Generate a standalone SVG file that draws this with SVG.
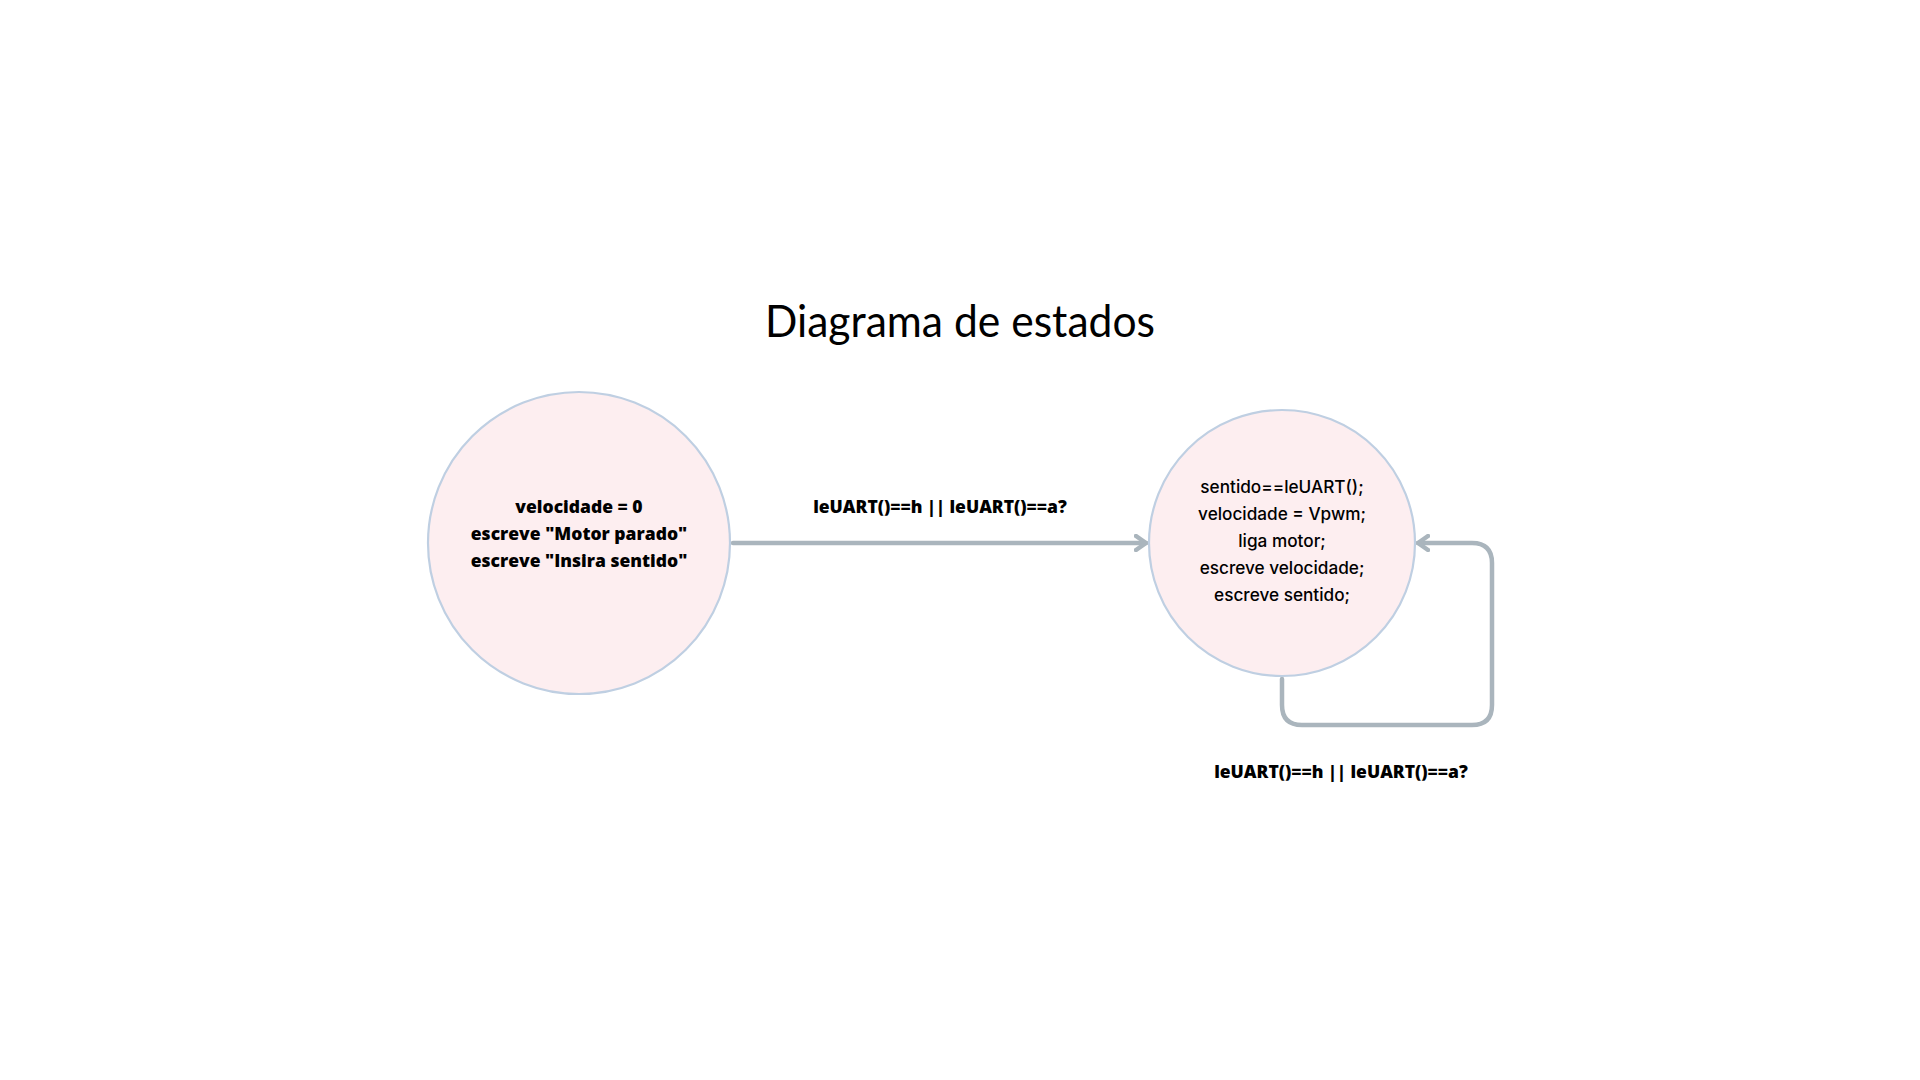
<svg xmlns="http://www.w3.org/2000/svg" width="1920" height="1080" viewBox="0 0 1920 1080">
<style>
.state{fill:#fdeef0;stroke:#bfcfe2;stroke-width:2.2}
.edge{fill:none;stroke:#aab5bd;stroke-width:4.5;stroke-linecap:round;stroke-linejoin:round}
.title{font-family:Lato,Inter,"Open Sans",sans-serif;font-size:45px;fill:#000}
.b{font-family:"Open Sans","Liberation Sans",sans-serif;font-weight:800;font-size:17.5px;fill:#000;text-anchor:middle}
.m{font-family:Inter,"Noto Sans",sans-serif;font-weight:500;font-size:17.2px;fill:#000;text-anchor:middle}
</style>
<defs>
<marker id="arr" viewBox="0 0 14 18" refX="12" refY="9" markerWidth="14" markerHeight="18" markerUnits="userSpaceOnUse" orient="auto">
<path d="M2,2 L12,9 L2,16" fill="none" stroke="#aab5bd" stroke-width="4.5" stroke-linecap="round" stroke-linejoin="round"/>
</marker>
</defs>
<rect width="1920" height="1080" fill="#fff"/>
<text class="title" x="960" y="337" text-anchor="middle" textLength="390" lengthAdjust="spacingAndGlyphs">Diagrama de estados</text>
<g id="connectors">
<path class="edge" d="M733,543 L1146,543" marker-end="url(#arr)"/>
<path class="edge" d="M1282,679 L1282,705 Q1282,725 1302,725 L1472,725 Q1492,725 1492,705 L1492,563 Q1492,543 1472,543 L1418,543" marker-end="url(#arr)"/>
<text class="b" x="940" y="513">leUART()==h || leUART()==a?</text>
<text class="b" x="1341" y="778">leUART()==h || leUART()==a?</text>
</g>
<g id="state-parado">
<circle class="state" cx="579" cy="543" r="151"/>
<text class="b" x="579" y="513">velocidade = 0</text>
<text class="b" x="579" y="540">escreve "Motor parado"</text>
<text class="b" x="579" y="567">escreve "Insira sentido"</text>
</g>
<g id="state-ligado">
<circle class="state" cx="1282" cy="543" r="133"/>
<text class="m" x="1282" y="493">sentido==leUART();</text>
<text class="m" x="1282" y="520">velocidade = Vpwm;</text>
<text class="m" x="1282" y="547">liga motor;</text>
<text class="m" x="1282" y="574">escreve velocidade;</text>
<text class="m" x="1282" y="601">escreve sentido;</text>
</g>
</svg>
